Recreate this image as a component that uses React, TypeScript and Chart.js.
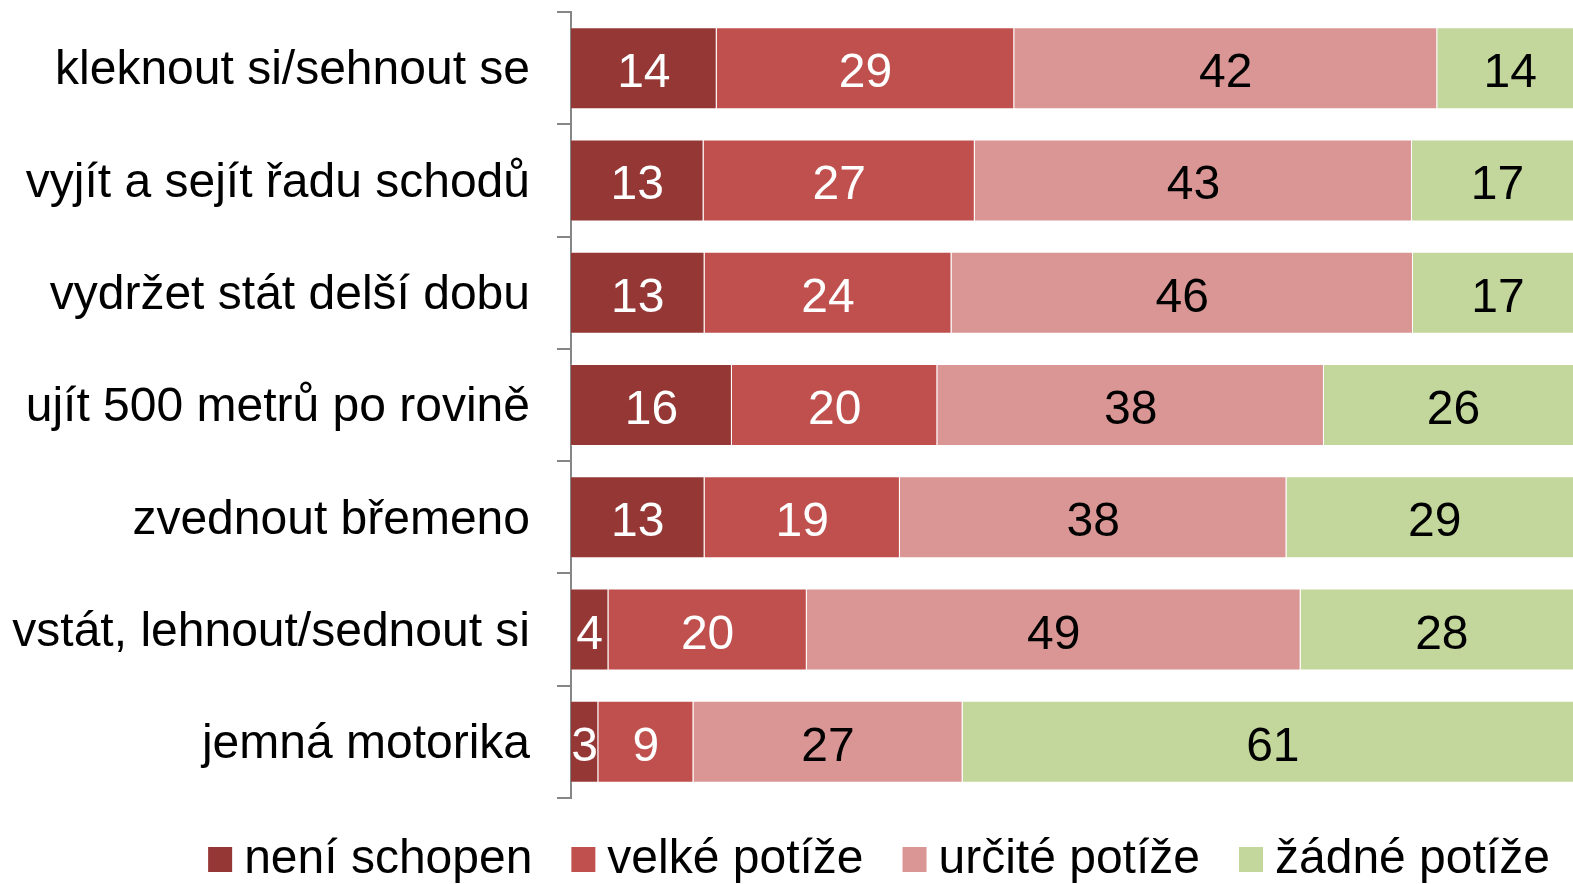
import React, { useEffect, useRef } from "react";
import { Chart, registerables } from "chart.js";

Chart.register(...registerables);

const categories = [
  "kleknout si/sehnout se",
  "vyjít a sejít řadu schodů",
  "vydržet stát delší dobu",
  "ujít 500 metrů po rovině",
  "zvednout břemeno",
  "vstát, lehnout/sednout si",
  "jemná motorika",
];

const seriesNames = ["není schopen", "velké potíže", "určité potíže", "žádné potíže"];

const neniSchopen = [14.4, 13.1, 13.2, 15.9, 13.2, 3.7, 2.7];
const velkePotize = [29.4, 26.8, 24.4, 20.3, 19.3, 19.6, 9.4];
const urcitePotize = [41.8, 43.2, 45.6, 38.2, 38.2, 48.8, 26.6];
const zadnePotize = [14.4, 16.9, 16.8, 25.6, 29.3, 27.9, 61.3];

const seriesValues = [neniSchopen, velkePotize, urcitePotize, zadnePotize];
const seriesColors = ["#953735", "#C0504D", "#D99694", "#C3D69B"];
const valueLabelColors = ["#FFFFFF", "#FFFFFF", "#000000", "#000000"];

const FONT = '"Liberation Sans", Arial, Helvetica, sans-serif';
const FONT_SIZE = 48;

const valueLabels = {
  id: "valueLabels",
  afterDatasetsDraw(chart: any) {
    const ctx = chart.ctx;
    ctx.save();
    ctx.font = `${FONT_SIZE}px ${FONT}`;
    ctx.textAlign = "center";
    ctx.textBaseline = "alphabetic";
    chart.data.datasets.forEach((ds: any, di: number) => {
      const meta = chart.getDatasetMeta(di);
      meta.data.forEach((bar: any, i: number) => {
        const p = bar.getProps(["x", "y", "base"], true);
        const cx = (p.x + p.base) / 2;
        ctx.fillStyle = valueLabelColors[di];
        ctx.fillText(String(Math.round(ds.data[i])), cx, p.y + 19);
      });
    });
    ctx.restore();
  },
};

const customLegend = {
  id: "customLegend",
  afterDraw(chart: any) {
    const ctx = chart.ctx;
    ctx.save();
    ctx.font = `${FONT_SIZE}px ${FONT}`;
    ctx.textBaseline = "alphabetic";
    ctx.textAlign = "left";
    const box = 24;
    const gapText = 12;
    const gapItem = 39;
    const items = chart.data.datasets.map((ds: any) => ({
      text: ds.label,
      color: ds.backgroundColor,
      w: ctx.measureText(ds.label).width,
    }));
    const total =
      items.reduce((s: number, it: any) => s + box + gapText + it.w, 0) + gapItem * (items.length - 1);
    const centerX = 879;
    const cy = 859;
    let x = centerX - total / 2;
    items.forEach((it: any) => {
      ctx.fillStyle = it.color;
      ctx.fillRect(x, cy - box / 2, box, box + 1);
      x += box + gapText;
      ctx.fillStyle = "#000";
      ctx.fillText(it.text, x, cy + 14);
      x += it.w + gapItem;
    });
    ctx.restore();
  },
};

export default function App() {
  const ref = useRef<HTMLCanvasElement | null>(null);

  useEffect(() => {
    if (!ref.current) return;
    const chart = new Chart(ref.current, {
      type: "bar",
      data: {
        labels: categories,
        datasets: seriesNames.map((name, i) => ({
          label: name,
          data: seriesValues[i],
          backgroundColor: seriesColors[i],
          borderColor: "rgba(255,255,255,0.3)",
          borderWidth: { top: 1, bottom: 1, right: 1, left: 0 },
          borderSkipped: false,
          categoryPercentage: 1,
          barPercentage: 0.73,
        })),
      },
      options: {
        indexAxis: "y",
        responsive: false,
        animation: false,
        devicePixelRatio: 1,
        layout: { padding: { top: 12, bottom: 86, left: 0, right: 0 } },
        plugins: {
          legend: { display: false },
          tooltip: { enabled: false },
          title: { display: false },
        },
        scales: {
          x: { stacked: true, display: false, min: 0, max: 100 },
          y: {
            stacked: true,
            offset: true,
            grid: {
              display: true,
              drawOnChartArea: false,
              drawTicks: true,
              tickLength: 14,
              color: "#868686",
              lineWidth: 2,
              offset: true,
            },
            border: { display: true, color: "#868686", width: 2 },
            ticks: {
              color: "#000000",
              font: { size: FONT_SIZE, family: FONT },
              padding: 27,
              autoSkip: false,
              labelOffset: 3,
            },
            afterFit: (s: any) => {
              s.width = 571;
              s.paddingTop = 0;
              s.paddingBottom = 0;
            },
          },
        },
      } as any,
      plugins: [valueLabels, customLegend],
    });
    return () => chart.destroy();
  }, []);

  return (
    <div
      style={{
        position: "fixed",
        left: 0,
        top: 0,
        width: 1573,
        height: 884,
        overflow: "hidden",
        background: "#ffffff",
      }}
    >
      <canvas ref={ref} width={1583} height={884} style={{ display: "block", width: 1583, height: 884 }} />
    </div>
  );
}
